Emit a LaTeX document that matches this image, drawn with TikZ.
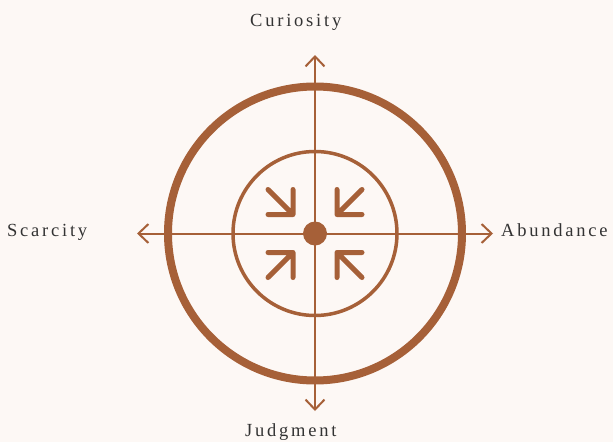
\documentclass[tikz,border=0pt]{standalone}
\usepackage{fontspec}
\setmainfont{Liberation Serif}
\newfontfamily\espace[LetterSpace=15]{Liberation Serif}
\usetikzlibrary{arrows.meta}
\definecolor{colBrun}{RGB}{166,96,56}
\definecolor{colTexte}{RGB}{51,51,51}
\definecolor{colFond}{RGB}{253,248,245}

\begin{document}
\begin{tikzpicture}[x=1pt, y=-1pt,
    lb/.style={font=\espace\fontsize{18.5}{20}\selectfont, text=colTexte,
      inner sep=0pt, anchor=base west},
    axe/.style={{Straight Barb[length=10pt,width=19pt]}-{Straight Barb[length=10pt,width=19pt]},
      line width=2pt, colBrun},
    fl/.style={line width=5pt, colBrun, line cap=round, line join=round}]
    \fill[colFond] (0,0) rectangle (613,442);
    \useasboundingbox (0,0) rectangle (613,442);
    \coordinate (o) at (315,233.5);
    % cercles
    \draw[colBrun, line width=8pt] (o) circle (147pt);
    \draw[colBrun, line width=3.5pt] (o) circle (82pt);
    % axes
    \coordinate (haut) at (315,55);
    \coordinate (bas) at (315,411);
    \coordinate (gauche) at (137,233.5);
    \coordinate (droite) at (493,233.5);
    \draw[axe] (gauche) -- (droite);
    \draw[axe] (bas) -- (haut);
    \node[circle, fill=colBrun, minimum size=24pt, inner sep=0pt] (centre) at (o) {};
    % fleches vers le centre
    \foreach \sx/\sy in {-1/-1, 1/-1, -1/1, 1/1}
      \draw[fl, shift={(o)}] (47*\sx,19*\sy) -- (22*\sx,19*\sy) -- (22*\sx,44*\sy)
        (47*\sx,44*\sy) -- (22*\sx,19*\sy);
    % libelles
    \node[lb] (curiosity) at (250,26) {Curiosity};
    \node[lb] (judgment) at (245,436.5) {Judgment};
    \node[lb] (scarcity) at (7,236) {Scarcity};
    \node[lb] (abundance) at (501,236) {Abundance};
  \end{tikzpicture}
\end{document}
